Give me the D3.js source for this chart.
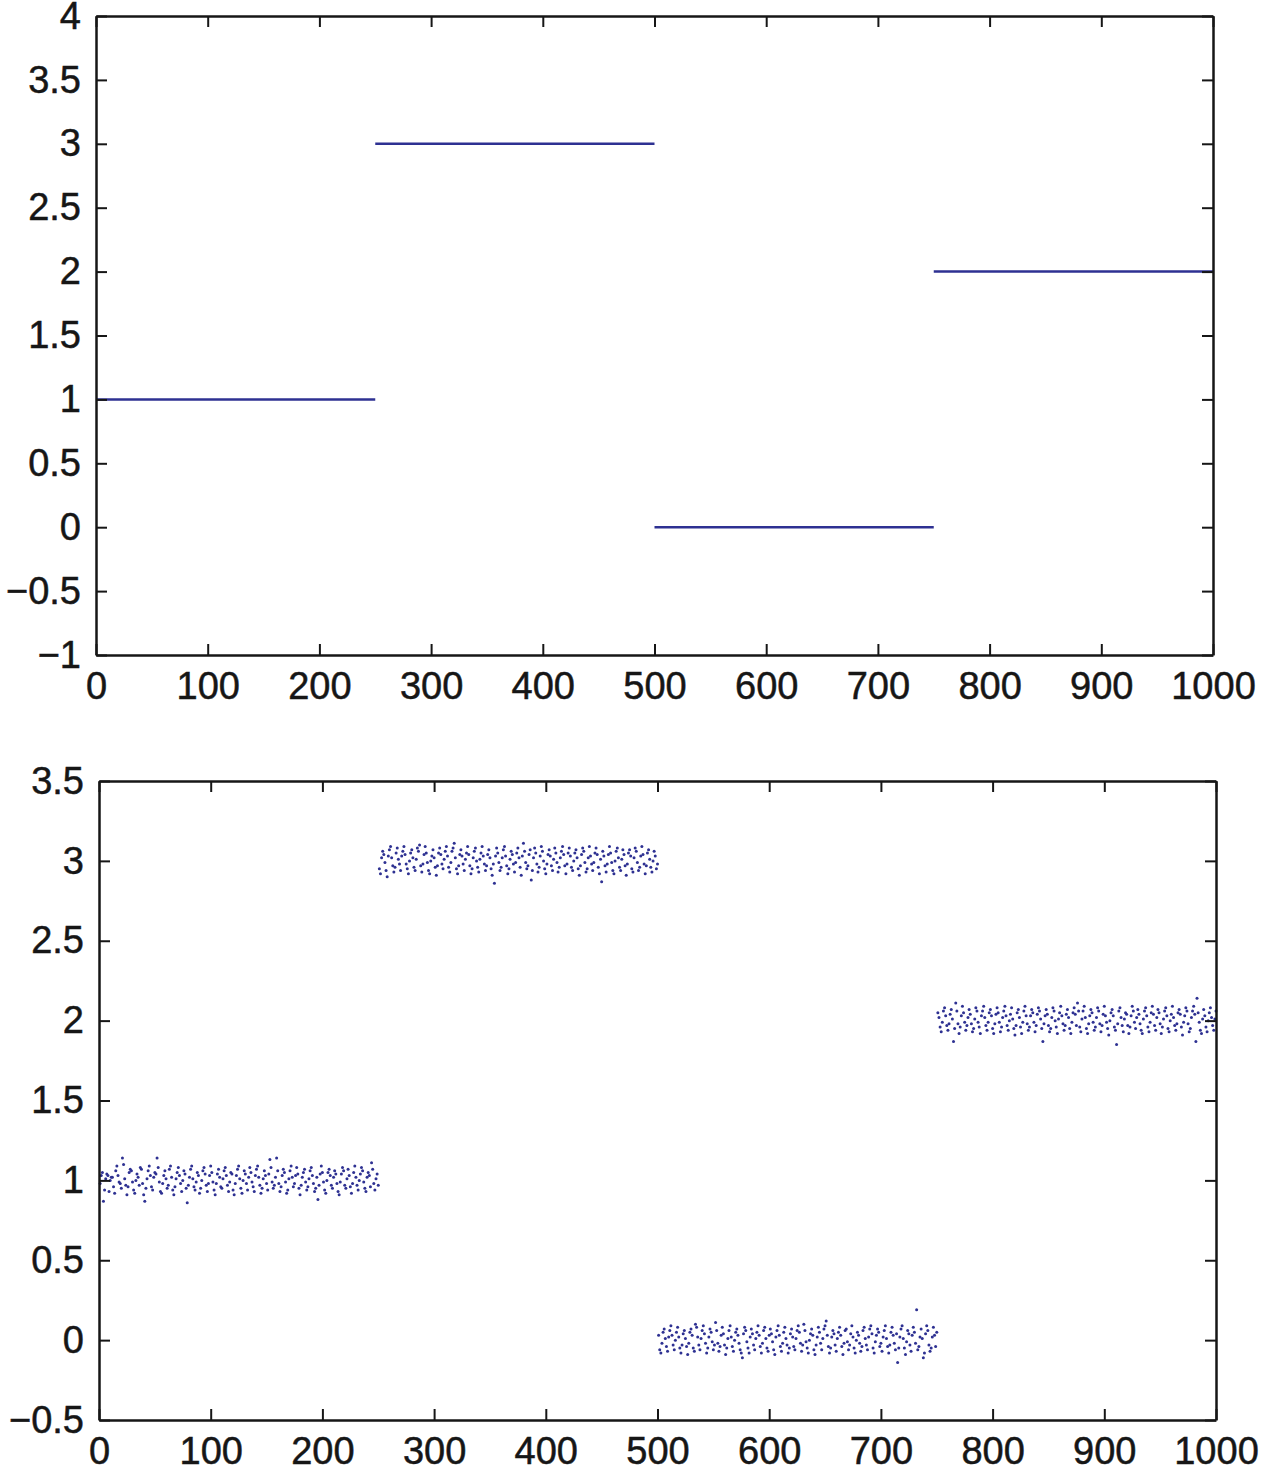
<!DOCTYPE html>
<html>
<head>
<meta charset="utf-8">
<script src="https://cdn.jsdelivr.net/npm/d3@7"></script>
<style>
  body { margin: 0; background: #fff; }
  svg text { font-family: "Liberation Sans", Arial, Helvetica, sans-serif; }
</style>
</head>
<body>
<svg id="chart" width="1268" height="1482"></svg>
<script>
(function () {
    'use strict';

    // piecewise constant signal: level of each block of 250 samples
    var levels = [1, 3, 0, 2];
    var blockStarts = [0, 250, 500, 750];
    var blockEnds = [250, 500, 750, 1000];

    var xTicks = [0, 100, 200, 300, 400, 500, 600, 700, 800, 900, 1000];
    var yTicksTop = [-1, -0.5, 0, 0.5, 1, 1.5, 2, 2.5, 3, 3.5, 4];
    var yTicksBottom = [-0.5, 0, 0.5, 1, 1.5, 2, 2.5, 3, 3.5];

    // noise, in hundredths, one array per block
    var noise1 = [
        -2, 3, 5, -13, -6, 1, 4, 3, -7, 0,
        2, 2, -4, -8, 6, 9, 3, -1, -2, -5,
        14, 10, 1, -3, -9, -4, 5, 7, 6, -1,
        -6, -8, 0, 4, 2, -3, 8, 7, -2, -9,
        -13, -5, 1, 6, 9, 3, -4, -6, 2, 5,
        4, 14, 8, -1, -7, -8, -2, 3, 6, 1,
        -5, -3, 7, 9, 2, -6, -9, -4, 1, 5,
        8, 3, -2, -7, 0, 6, 4, -5, -14, -3,
        2, 7, 9, 1, -4, -6, -1, 5, 3, -8,
        -5, 0, 6, 8, 4, -3, -7, -2, 3, 9,
        5, -1, -6, -9, -2, 4, 7, 2, -4, -5,
        1, 6, 8, 3, -3, -7, -1, 5, 4, -6,
        -9, -2, 3, 7, 9, 1, -5, -8, 0, 6,
        4, -2, -6, 2, 8, 5, -1, -4, -7, 3,
        7, 9, 2, -3, -8, -5, 1, 6, 3, -2,
        -6, 4, 13, 8, -1, -5, -3, 2, 14, 6,
        -2, -7, -4, 3, 7, 5, -1, -8, -6, 1,
        6, 9, 2, -4, -2, 3, 8, 4, -5, -9,
        -3, 2, 5, 7, -1, -6, -4, 1, 6, 8,
        3, -2, -7, -5, 2, -12, -3, 4, 9, 5,
        -1, -6, -8, 0, 5, 7, 3, -3, -5, 2,
        6, 4, -2, -7, -9, -1, 4, 8, 6, -3,
        -5, 1, 7, 3, -4, -8, -2, 5, 9, 2,
        -3, -6, 0, 4, 8, 6, -1, -5, -7, 2,
        5, 3, -4, 11, 7, -2, -6, 1, 4, -3
    ];
    var noise2 = [
        -5, -8, 2, 6, 4, -1, -6, -10, 3, 7,
        9, 2, -3, -7, -4, 5, 8, 1, -2, -6,
        3, 6, 9, 4, -2, -5, -8, 0, 5, 7,
        2, -4, -6, 1, 8, 6, 10, -3, -7, -2,
        4, 9, 5, -1, -6, -8, 0, 3, 7, 2,
        -4, -9, -3, 5, 8, 4, -2, -5, 1, 6,
        9, 3, -4, -7, -1, 6, 8, 11, 2, -5,
        -8, -3, 4, 7, 3, -2, -6, 1, 5, 9,
        4, -3, -8, -5, 2, 6, 8, 0, -4, -7,
        1, 5, 9, 3, -2, -6, -3, 4, 7, 2,
        -5, -9, -2, -14, 3, 8, 5, -1, -6, -4,
        2, 7, 9, 3, -3, -8, -5, 1, 6, 4,
        -2, -7, -1, 5, 8, 2, -4, -9, 3, 11,
        6, -1, -5, -3, 4, 7, -12, -6, 2, 8,
        5, -2, -7, -4, 3, 9, 6, 0, -5, -8,
        -2, 4, 7, 3, -3, -6, 1, 8, 5, -1,
        -7, -4, 2, 6, 9, 4, -3, -8, -2, 5,
        8, 3, -4, -6, 0, 5, 7, 2, -5, -9,
        -3, 4, 8, 6, -1, -7, -5, 2, 9, 3,
        -2, -6, -1, 5, 8, 4, -4, -8, 1, -13,
        6, 3, -3, -7, -2, 4, 9, 5, -1, -6,
        -8, 0, 6, 8, 2, -4, -6, 1, 7, 4,
        -3, -9, -2, 5, 7, 3, -5, -7, 2, 8,
        6, -1, -6, -4, 3, 9, 4, -2, -8, -3,
        5, 7, 1, -4, -7, 0, 6, 3, -5, -2
    ];
    var noise3 = [
        3, -6, -8, -2, 5, 7, 1, -4, -7, 2,
        6, 9, 3, -3, -6, 0, 5, 8, 2, -5,
        -8, -3, 4, 6, 1, -4, -9, -2, 5, 7,
        3, -5, -7, 10, 8, 2, -3, -6, 1, 6,
        9, 4, -2, -8, -5, 2, 7, 5, -1, -6,
        -3, 11, 6, -2, -7, -4, 3, 8, 4, -3,
        -9, -5, 1, 6, 9, 2, -4, -7, 0, 5,
        7, 3, -2, -6, -8, -11, 4, 8, 6, -1,
        -5, -8, 2, 7, 4, -3, -6, 1, 5, 9,
        3, -4, -8, -2, 6, 8, 1, -5, -7, 3,
        7, 4, -1, -6, -9, 2, 6, 9, 3, -4,
        -7, -2, 5, 8, 1, -3, -8, -5, 4, 7,
        2, -4, -6, 1, 6, 9, 5, -2, -7, -3,
        10, 6, -1, -5, -8, 0, 4, 7, 3, -6,
        -9, -3, 2, 8, 5, -2, -6, 1, 7, 9,
        12, 3, -4, -8, -5, 2, 6, 4, -3, -7,
        1, 5, 8, 3, -4, -9, -2, 6, 7, -1,
        -6, -3, 4, 9, 2, -5, -8, 0, 5, 3,
        -2, -7, -4, 6, 8, 1, -3, -6, 2, 7,
        9, 4, -5, -8, -1, 3, 7, 5, -4, -2,
        -7, 2, 6, 9, 1, -4, -8, -3, 5, 8,
        3, -2, -6, 4, -14, -5, 2, 7, 9, 1,
        -5, -9, -1, 6, 4, -3, -7, 3, 8, 5,
        -2, 19, -6, -4, 2, 7, 1, -11, -8, 4,
        9, 6, -3, -7, -5, 2, 8, 3, -4, 5
    ];
    var noise4 = [
        5, 2, -4, -7, -1, 6, 8, 3, -3, -6,
        -2, 4, 7, 1, -13, -5, 11, 6, -2, -8,
        -4, 3, 9, 5, -1, -6, -3, 2, 7, 4,
        -2, -7, -5, 1, 8, 6, -1, -4, -8, 3,
        6, 9, 2, -3, -6, -1, 5, 7, 3, -5,
        -8, -2, 4, 8, 5, -1, -7, -4, 2, 6,
        9, 3, -3, -6, 0, 4, 8, 1, -5, -9,
        -3, 5, 7, 2, -4, -8, -1, 6, 9, 3,
        -2, -6, -4, 3, 7, 5, -1, -7, -3, 4,
        8, 6, 1, -5, -13, -2, 3, 7, 4, -3,
        -7, -5, 2, 8, 6, 0, -4, -8, 1, 5,
        9, 3, -2, -6, -3, 4, 7, 2, -5, -8,
        -1, 5, 8, 4, -3, 11, 6, -4, -7, 1,
        6, 9, 2, -5, -8, -2, 3, 7, 5, -1,
        -6, -4, 2, 8, 6, -2, -7, -3, 4, 9,
        3, -1, -5, -9, 0, 5, 7, 3, -4, -6,
        -15, -2, 6, 8, 2, -3, -7, 1, 5, 4,
        -3, -8, -4, 3, 9, 6, -1, -5, 2, 7,
        4, -2, -6, -8, 1, 6, 8, 3, -4, -7,
        -1, 5, 9, 4, -3, -6, 2, 7, 5, -2,
        -8, -4, 1, 6, 8, 3, -5, -7, 0, 4,
        9, 2, -3, -6, -2, 5, 7, 4, -4, -9,
        -1, 3, 8, 6, -2, -7, -5, 2, 6, 9,
        4, -13, 14, 5, -1, -6, -8, 1, 7, 3,
        -4, -7, 0, 5, 8, 2, -3, -6, 1, 6
    ];

    var blue = "#2e3192";
    var ink = "#161616";
    var svg = d3.select("#chart");

    function fmt(d) {
        return (d < 0 ? "\u2212" : "") + Math.abs(d);
    }

    function drawFrame(g, x, y, yTicks, w, h) {
        var tick = 11;
        g.append("g")
            .attr("transform", "translate(0," + h + ")")
            .call(d3.axisBottom(x).tickValues(xTicks).tickFormat(fmt).tickSizeInner(-tick).tickSizeOuter(0).tickPadding(17));
        g.append("g")
            .call(d3.axisTop(x).tickValues(xTicks).tickFormat("").tickSizeInner(-tick).tickSizeOuter(0));
        g.append("g")
            .call(d3.axisLeft(y).tickValues(yTicks).tickFormat(fmt).tickSizeInner(-tick).tickSizeOuter(0).tickPadding(15));
        g.append("g")
            .attr("transform", "translate(" + w + ",0)")
            .call(d3.axisRight(y).tickValues(yTicks).tickFormat("").tickSizeInner(-tick).tickSizeOuter(0));

        g.selectAll(".domain").style("stroke", ink).style("stroke-width", "2.5px");
        g.selectAll(".tick line").style("stroke", ink).style("stroke-width", "2px");
        g.selectAll(".tick text")
            .style("font-size", "38px")
            .style("fill", ink)
            .style("stroke", ink)
            .style("stroke-width", "0.5px");
        g.selectAll("g").attr("font-family", null).attr("font-size", null);
    }

    // ---- top panel: clean signal ----
    var top = { left: 96, right: 1213, top: 16, bottom: 655 };
    var w1 = top.right - top.left, h1 = top.bottom - top.top;
    var g1 = svg.append("g").attr("transform", "translate(" + top.left + "," + top.top + ")");
    var x1 = d3.scaleLinear().domain([0, 1000]).range([0, w1]);
    var y1 = d3.scaleLinear().domain([-1, 4]).range([h1, 0]);

    g1.selectAll("line.seg")
        .data(levels)
        .enter()
        .append("line")
        .attr("class", "seg")
        .attr("x1", function (d, i) { return x1(blockStarts[i]); })
        .attr("x2", function (d, i) { return x1(blockEnds[i]); })
        .attr("y1", function (d) { return y1(d); })
        .attr("y2", function (d) { return y1(d); })
        .style("stroke", blue)
        .style("stroke-width", "2.5px");

    drawFrame(g1, x1, y1, yTicksTop, w1, h1);

    // ---- bottom panel: noisy samples ----
    var bot = { left: 99, right: 1216, top: 781, bottom: 1420 };
    var w2 = bot.right - bot.left, h2 = bot.bottom - bot.top;
    var g2 = svg.append("g").attr("transform", "translate(" + bot.left + "," + bot.top + ")");
    var x2 = d3.scaleLinear().domain([0, 1000]).range([0, w2]);
    var y2 = d3.scaleLinear().domain([-0.5, 3.5]).range([h2, 0]);

    var noises = [noise1, noise2, noise3, noise4];
    var samples = [];
    noises.forEach(function (arr, b) {
        arr.forEach(function (n, k) {
            samples.push({ x: blockStarts[b] + k + 1, y: levels[b] + n / 100 });
        });
    });

    g2.selectAll("circle")
        .data(samples)
        .enter()
        .append("circle")
        .attr("cx", function (d) { return x2(d.x); })
        .attr("cy", function (d) { return y2(d.y); })
        .attr("r", 1.5)
        .style("fill", blue);

    drawFrame(g2, x2, y2, yTicksBottom, w2, h2);
}());
</script>
</body>
</html>
